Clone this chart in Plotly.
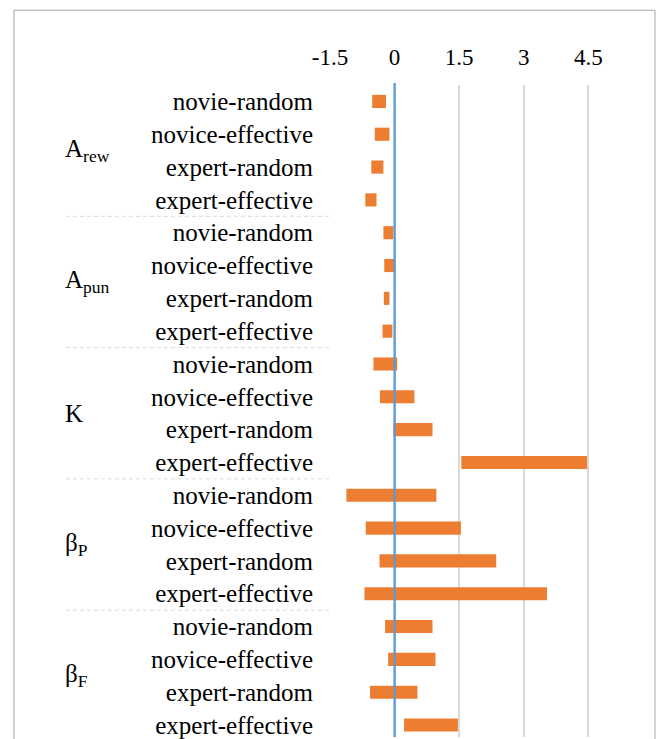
import plotly.graph_objects as go

# Parameter groups (multi-level category axis) and the conditions within each
groups = ["A<sub>rew</sub>", "A<sub>pun</sub>", "K", "β<sub>P</sub>", "β<sub>F</sub>"]
conditions = ["novie-random", "novice-effective", "expert-random", "expert-effective"]

# Interval bounds (lower, upper) per row, group by group
lower = [-0.52, -0.46, -0.54, -0.68,
         -0.26, -0.24, -0.25, -0.28,
         -0.49, -0.34, -0.03, 1.55,
         -1.12, -0.67, -0.35, -0.70,
         -0.22, -0.15, -0.57, 0.22]
upper = [-0.20, -0.12, -0.26, -0.42,
         -0.03, -0.01, -0.12, -0.05,
         0.06, 0.46, 0.88, 4.47,
         0.97, 1.54, 2.36, 3.54,
         0.88, 0.95, 0.53, 1.47]

tick_vals = [-1.5, 0, 1.5, 3, 4.5]
tick_text = ["-1.5", "0", "1.5", "3", "4.5"]

W, H = 656, 739
ML, MR, MT, MB = 329.5, 6, 85, 0
PW, PH = W - ML - MR, H - MT - MB

def px_x(px):
    return (px - ML) / PW

def px_y(py):
    return (H - MB - py) / PH

n_rows = len(groups) * len(conditions)
rows = list(range(n_rows))
row_labels = [c for _ in groups for c in conditions]

FONT = "Liberation Serif"

fig = go.Figure()
fig.add_trace(go.Bar(
    y=rows,
    x=[u - l for l, u in zip(lower, upper)],
    base=lower,
    orientation="h",
    width=0.4,
    marker=dict(color="#ED7D31", line=dict(width=0)),
    hoverinfo="skip",
))

shapes = []
# outer chart frame
shapes.append(dict(type="rect", xref="paper", yref="paper",
                   x0=px_x(13), x1=px_x(655), y0=px_y(760), y1=px_y(10),
                   line=dict(color="#a6a6a6", width=1), fillcolor="rgba(0,0,0,0)",
                   layer="below"))
# zero reference line
shapes.append(dict(type="line", xref="x", yref="paper", x0=0, x1=0, y0=0, y1=1.003,
                   line=dict(color="#5B9BD5", width=2.3), layer="above"))
# dashed dividers between parameter groups
for g in range(1, len(groups)):
    yb = g * len(conditions) - 0.5
    shapes.append(dict(type="line", xref="paper", yref="y",
                       x0=px_x(65), x1=px_x(329), y0=yb, y1=yb,
                       line=dict(color="#d9d9d9", width=1, dash="4px,3px")))

annotations = []
for g, name in enumerate(groups):
    yc = g * len(conditions) + (len(conditions) - 1) / 2
    annotations.append(dict(xref="paper", yref="y", x=px_x(62), y=yc,
                            xanchor="left", yanchor="middle", showarrow=False,
                            text=name, font=dict(family=FONT, size=25, color="black")))

fig.update_layout(
    width=W, height=H,
    margin=dict(l=ML, r=MR, t=MT, b=MB, pad=0),
    plot_bgcolor="white", paper_bgcolor="white",
    font=dict(family=FONT, color="black"),
    showlegend=False,
    bargap=0.6,
    shapes=shapes,
    annotations=annotations,
    xaxis=dict(
        side="top", range=[-1.5, -1.5 + (PW) / 43.13],
        tickvals=tick_vals, ticktext=tick_text,
        showgrid=True, gridcolor="#d9d9d9", gridwidth=1.5,
        zeroline=False, showline=False, ticks="",
        ticklabelstandoff=14,
        tickfont=dict(family=FONT, size=23, color="black"),
    ),
    yaxis=dict(
        range=[19.365, -0.5],
        tickvals=rows, ticktext=row_labels,
        showgrid=False, zeroline=False, showline=False, ticks="",
        ticklabelstandoff=16,
        ticklabeloverflow="allow",
        tickfont=dict(family=FONT, size=25, color="black"),
    ),
)

fig.write_html("out.html")
